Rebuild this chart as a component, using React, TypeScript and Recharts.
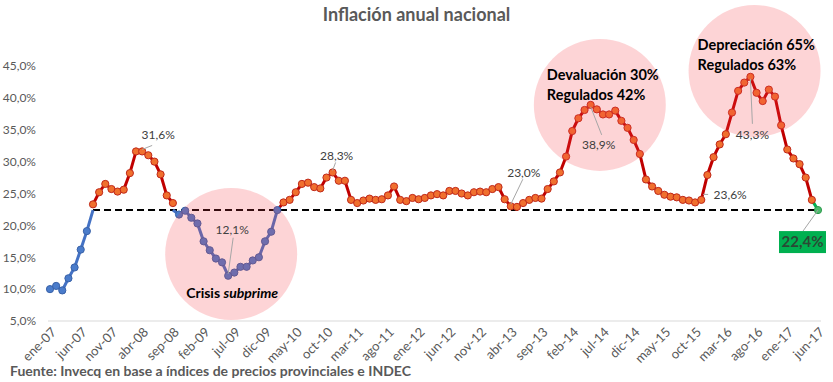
import { LineChart, Line, XAxis, YAxis, ReferenceDot, LabelList } from "recharts";

const meses = ["ene", "feb", "mar", "abr", "may", "jun", "jul", "ago", "sep", "oct", "nov", "dic"];
const anios = ["07", "08", "09", "10", "11", "12", "13", "14", "15", "16", "17"];
const fechas = anios.flatMap((a) => meses.map((m) => `${m}-${a}`)).slice(0, 126);

// inflación anual (%), ene-07 a jun-17
const inflacion = [
  10.0, 10.5, 9.8, 11.7, 13.4, 16.2, 19.1, 23.3, 25.2, 26.5, 25.7, 25.3,
  25.6, 28.2, 31.6, 31.6, 31.0, 30.0, 28.0, 24.7, 23.5, 21.7, 22.3, 21.2,
  20.3, 17.5, 16.1, 14.8, 14.2, 12.1, 12.6, 13.5, 13.5, 14.5, 15.0, 17.5,
  19.0, 22.4, 23.6, 24.0, 25.2, 26.5, 26.7, 26.0, 25.8, 27.5, 28.3, 27.0,
  27.0, 24.0, 23.5, 23.9, 24.2, 24.0, 24.1, 24.7, 26.1, 24.0, 23.8, 24.3,
  24.1, 24.3, 24.7, 24.9, 24.7, 25.4, 25.4, 25.0, 24.7, 25.2, 25.3, 25.2,
  25.7, 26.0, 24.1, 23.0, 22.9, 23.5, 24.0, 24.3, 24.2, 25.7, 26.9, 28.3,
  30.8, 34.8, 36.8, 38.1, 38.9, 38.2, 37.4, 37.4, 38.0, 36.4, 35.3, 33.4,
  31.2, 27.2, 26.1, 25.4, 24.8, 24.5, 24.4, 24.0, 23.9, 23.6, 24.0, 27.9,
  30.7, 32.7, 34.3, 37.7, 41.1, 42.4, 43.3, 40.8, 39.5, 41.3, 40.2, 35.7,
  31.9, 30.5, 29.6, 27.5, 24.0, 22.4,
];

const UMBRAL = 22.4;
const yTicks = [5, 10, 15, 20, 25, 30, 35, 40, 45];

// puntos con etiqueta de dato
const etiquetasIdx = [15, 29, 46, 75, 88, 105, 114];

// círculos de anotación
const anotacionFechas = ["jun-09", "jun-14", "ago-16"];
const anotacionNiveles = [15.5, 38.9, 44.2];

const FONT = "Lato, 'Open Sans', sans-serif";
const ultimo = inflacion.length - 1;
const primerCruce = inflacion.findIndex((v) => v > UMBRAL);

const data = fechas.map((fecha, i) => {
  const v = inflacion[i];
  const prev = inflacion[i - 1];
  const next = inflacion[i + 1];
  const vecinoBajo = (prev !== undefined && prev < UMBRAL) || (next !== undefined && next < UMBRAL);
  let azul: number | null = null;
  if (i < ultimo) azul = v <= UMBRAL ? v : vecinoBajo ? UMBRAL : null;
  return {
    fecha,
    valor: v,
    azul,
    rojo: i < ultimo && v >= UMBRAL ? v : null,
    verde: i >= ultimo - 1 ? v : null,
    umbral: i >= primerCruce ? UMBRAL : null,
  };
});

const fmt = (v: number) => `${v.toFixed(1).replace(".", ",")}%`;

function puntoAzul(props: any) {
  const { cx, cy, index } = props;
  if (cy == null || inflacion[index] > UMBRAL || index === ultimo) return <g key={`a${index}`} />;
  return <circle key={`a${index}`} cx={cx} cy={cy} r={3.6} fill="#4A7CCB" stroke="#3A62A8" strokeWidth={1} />;
}

function puntoRojo(props: any) {
  const { cx, cy, index } = props;
  if (cy == null || inflacion[index] <= UMBRAL) return <g key={`r${index}`} />;
  return <circle key={`r${index}`} cx={cx} cy={cy} r={3.6} fill="#F0702E" stroke="#C0281A" strokeWidth={1} />;
}

function puntoVerde(props: any) {
  const { cx, cy, index } = props;
  if (cy == null || index !== ultimo) return <g key={`v${index}`} />;
  return <circle key={`v${index}`} cx={cx} cy={cy} r={3.6} fill="#4CBB6C" stroke="#2E9A4E" strokeWidth={1} />;
}

// desplazamientos de etiquetas: [fin de guía dx, dy, texto dx, dy]
const desplaz: Record<number, number[]> = {
  15: [10, -6, 16, -16],
  29: [5, -38, 4, -46],
  46: [3, -10, 4, -16],
  75: [12, -27, 13, -33],
  88: [11, 30, 8, 40],
  105: [13, -8, 35, -7],
  114: [2, 47, 2, 58],
};

function renderEtiqueta(props: any) {
  const { x, y, index, value } = props;
  if (index === ultimo) {
    return (
      <g key="ult">
        <line x1={x} y1={y} x2={x - 15} y2={y + 21} stroke="#A6A6A6" strokeWidth={1} />
        <rect x={x - 39} y={y + 21} width={47} height={22} fill="#00B050" />
        <text x={x - 15.5} y={y + 37} textAnchor="middle" fontFamily={FONT} fontWeight={700} fontSize={15} fill="#2A4A35">
          {fmt(value)}
        </text>
      </g>
    );
  }
  const d = etiquetasIdx.includes(index) ? desplaz[index] : null;
  if (!d) return <g key={`e${index}`} />;
  const [lx, ly, tx, ty] = d;
  const sx = index === 105 ? 8 : 0;
  return (
    <g key={`e${index}`}>
      <line x1={x + sx} y1={y + (index === 105 ? -8 : Math.sign(ly) * 2)} x2={x + lx} y2={y + ly} stroke="#A6A6A6" strokeWidth={1} />
      <text x={x + tx} y={y + ty + 4} textAnchor="middle" fontFamily={FONT} fontSize={12} fill="#404040">
        {fmt(value)}
      </text>
    </g>
  );
}

function renderTickFecha(props: any) {
  const { x, y, payload } = props;
  return (
    <g transform={`translate(${Number(x) + 7},${Number(y) + 4}) rotate(-45)`}>
      <text x={0} y={0} textAnchor="end" fontFamily={FONT} fontSize={13} fill="#595959">
        {payload.value}
      </text>
    </g>
  );
}

const textosAnotacion = [
  (cx: number, cy: number) => (
    <text x={cx + 1} y={cy + 44} textAnchor="middle" fontFamily={FONT} fontWeight={700} fontSize={14} fill="#000">
      Crisis <tspan fontStyle="italic">subprime</tspan>
    </text>
  ),
  (cx: number, cy: number) => (
    <text x={cx - 53} fontFamily={FONT} fontWeight={700} fontSize={14.5} fill="#000">
      <tspan x={cx - 53} y={cy - 25}>Devaluación 30%</tspan>
      <tspan x={cx - 53} y={cy - 5}>Regulados 42%</tspan>
    </text>
  ),
  (cx: number, cy: number) => (
    <text x={cx - 57} fontFamily={FONT} fontWeight={700} fontSize={14.5} fill="#000">
      <tspan x={cx - 57} y={cy - 21}>Depreciación 65%</tspan>
      <tspan x={cx - 57} y={cy - 1}>Regulados 63%</tspan>
    </text>
  ),
];

const circuloShape = (k: number, dx: number) => (props: any) => {
  const cx = props.cx + dx;
  const cy = props.cy;
  return (
    <g>
      <circle cx={cx} cy={cy} r={66} fill="#F83C46" fillOpacity={0.22} />
      {textosAnotacion[k](cx, cy)}
    </g>
  );
};

const circDx = [3, 3, -2];

export default function App() {
  return (
    <div style={{ position: "absolute", left: 0, top: 0, width: 833, height: 382, background: "#fff" }}>
      <div
        style={{
          position: "absolute",
          top: 3,
          left: 0,
          width: 833,
          textAlign: "center",
          fontFamily: FONT,
          fontWeight: 700,
          fontSize: 18,
          color: "#595959",
        }}
      >
        Inflación anual nacional
      </div>
      <LineChart width={833} height={382} data={data} margin={{ top: 66, right: 12, left: 0, bottom: 0 }}>
        <XAxis
          dataKey="fecha"
          interval={4}
          height={61}
          tickLine={false}
          axisLine={{ stroke: "#D9D9D9" }}
          tick={renderTickFecha}
          padding={{ left: 2, right: 3 }}
        />
        <YAxis
          domain={[5, 45]}
          ticks={yTicks}
          tickFormatter={fmt}
          axisLine={false}
          tickLine={false}
          width={48}
          tickMargin={6}
          tick={{ fill: "#595959", fontSize: 12, fontFamily: FONT }}
        />
        <Line
          dataKey="umbral"
          stroke="#000"
          strokeWidth={2}
          strokeDasharray="7 4"
          dot={false}
          activeDot={false}
          isAnimationActive={false}
        />
        <Line dataKey="azul" stroke="#4472C4" strokeWidth={3} dot={puntoAzul} activeDot={false} isAnimationActive={false} />
        <Line dataKey="rojo" stroke="#C00000" strokeWidth={3} dot={puntoRojo} activeDot={false} isAnimationActive={false} />
        <Line dataKey="verde" stroke="#00B050" strokeWidth={3} dot={puntoVerde} activeDot={false} isAnimationActive={false} />
        <Line dataKey="valor" stroke="none" dot={false} activeDot={false} isAnimationActive={false}>
          <LabelList dataKey="valor" content={renderEtiqueta} />
        </Line>
        {anotacionFechas.map((f, k) => (
          <ReferenceDot
            key={f}
            x={f}
            y={anotacionNiveles[k]}
            r={66}
            ifOverflow="visible"
            shape={circuloShape(k, circDx[k])}
          />
        ))}
      </LineChart>
      <div
        style={{
          position: "absolute",
          top: 362,
          left: 10,
          fontFamily: FONT,
          fontWeight: 700,
          fontSize: 14,
          color: "#595959",
          whiteSpace: "nowrap",
        }}
      >
        Fuente: Invecq en base a índices de precios provinciales e INDEC
      </div>
    </div>
  );
}
